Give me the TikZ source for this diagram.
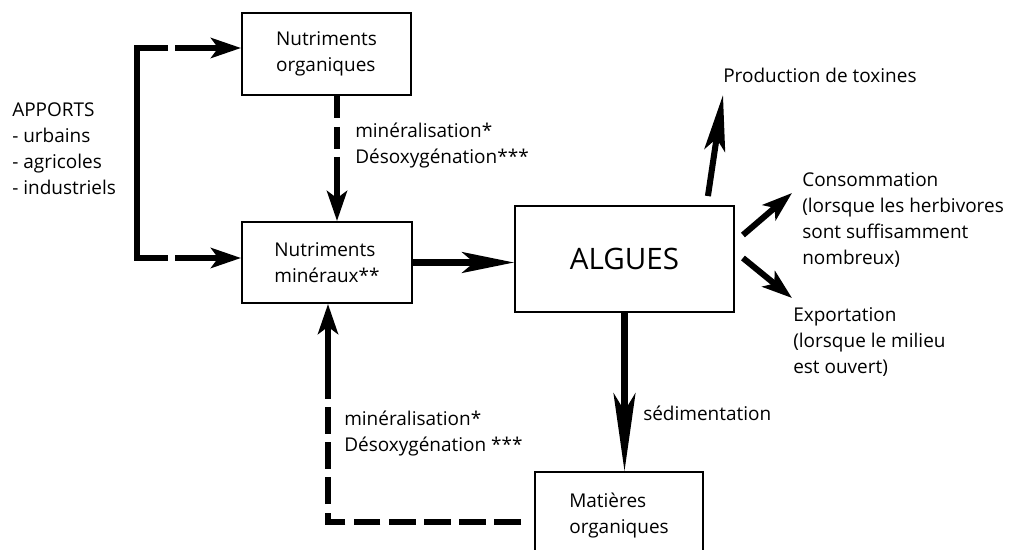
\documentclass[tikz,border=0pt]{standalone}
\usepackage{fontspec}
\setmainfont{Open Sans}
\usetikzlibrary{positioning,arrows.meta,calc}
\tikzset{
  every node/.style={font=\fontsize{13.5}{18.5}\selectfont},
  box/.style={
    rectangle, draw=black, line width=1.3pt,
    align=left, inner sep=0pt
  },
  flow/.style={
    -{Stealth[length=0.75cm,width=0.5cm,inset=0.18cm]},
    line width=4.3pt
  },
  longflow/.style={
    -{Stealth[length=1.3cm,width=0.52cm,inset=0.3cm]},
    line width=4.3pt
  },
  bar/.style={line width=4.3pt},
  dashbar/.style={line width=4.3pt, dash pattern=on 16pt off 6pt},
  note/.style={align=left, anchor=west, inner sep=0pt},
}

\begin{document}
\begin{tikzpicture}[x=0.025cm,y=-0.025cm]
  \useasboundingbox (0,0) rectangle (1015,550);
  \begin{scope}
  \clip (0,0) rectangle (1015,550);
  \node[box, minimum width=4.225cm, minimum height=2.05cm] (org) at (326.5,54) {Nutriments\\organiques};
  \node[box, minimum width=4.25cm, minimum height=2.025cm] (min) at (327,262.5) {Nutriments\\minéraux**};
  \node[box, minimum width=5.475cm, minimum height=2.65cm, font=\fontsize{21}{25}\selectfont] (alg) at (624.5,259) {ALGUES};
  \node[box, minimum width=4.2cm, minimum height=2.2cm] (mat) at (619,516) {Matières\\organiques};
  \end{scope}

  \node[note] (app) at (12,149) {APPORTS\\- urbains\\- agricoles\\- industriels};
  \node[note] (lab1) at (355,146) {minéralisation*\\Désoxygénation***};
  \node[note] (lab2) at (344,434) {minéralisation*\\Désoxygénation ***};
  \node[note] (sed) at (643,413) {sédimentation};
  \node[note] (tox) at (723,75) {Production de toxines};
  \node[note] (cons) at (802,220) {Consommation\\(lorsque les herbivores\\sont suffisamment\\nombreux)};
  \node[note] (exp) at (793,342) {Exportation\\(lorsque le milieu\\est ouvert)};

  \coordinate (in1) at (175,48);
  \coordinate (in2) at (175,258);
  \coordinate (brbot) at (137,258);
  \draw[bar] ($(in1)+(-7,0)$) -| (brbot) -- ($(in2)+(-7,0)$);
  \draw[flow] (in1) -- (in1 -| org.west);
  \draw[flow] (in2) -- (in2 -| min.west);

  \coordinate (d1) at (337,157);
  \draw[dashbar] (org.south -| d1) -- (d1);
  \draw[flow] (d1) -- (d1 |- min.north);

  \draw[longflow] (min.east) -- (min.east -| alg.west);
  \draw[longflow, -{Stealth[length=1.95cm,width=0.55cm,inset=0.45cm]}] (alg.south) -- (alg.south |- mat.north);

  \coordinate (corner) at (328,522);
  \coordinate (d2) at (328,372);
  \draw[dashbar, dash pattern=on 19pt off 6pt] ($(mat.west |- corner)+(-13,0)$) -- (corner) -- (d2);
  \draw[flow] (d2) -- (d2 |- min.south);

  \coordinate (toxtip) at (723,95);
  \coordinate (constip) at (792,193);
  \coordinate (exptip) at (792,298);
  \draw[longflow, -{Stealth[length=1.4cm,width=0.52cm,inset=0.3cm]}] ($(alg.north east)+(-27,-9)$) -- (toxtip);
  \draw[flow] ($(alg.east)+(8,-24)$) -- (constip);
  \draw[flow] ($(alg.east)+(8,-1)$) -- (exptip);
\end{tikzpicture}
\end{document}
